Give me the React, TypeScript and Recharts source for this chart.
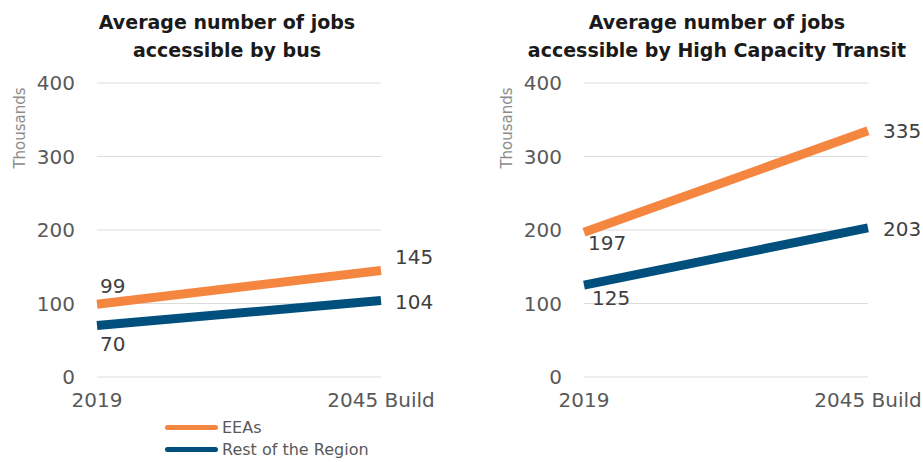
import { LineChart, Line, XAxis, YAxis, CartesianGrid, LabelList } from 'recharts';

const years = ['2019', '2045 Build'];
const busEEAs = [99, 145];
const busRest = [70, 104];
const hctEEAs = [197, 335];
const hctRest = [125, 203];
const yTicks = [0, 100, 200, 300, 400];

const ORANGE = '#F5863F';
const BLUE = '#004F7C';
const FONT = '"DejaVu Sans", sans-serif';

type Offset = [number, number];

const makeLabel = (offsets: Offset[], mid: number) => (props: any) => {
  const i = props.index ?? (props.x < mid ? 0 : 1);
  const [dx, dy] = offsets[i];
  return (
    <text
      x={props.x + dx}
      y={props.y + dy}
      dominantBaseline="central"
      fill="#404040"
      fontSize={20}
      fontFamily={FONT}
    >
      {props.value}
    </text>
  );
};

interface PanelProps {
  left: number;
  width: number;
  plotLeft: number;
  title: string[];
  titleCenter: number;
  eeas: number[];
  rest: number[];
  eeasOffsets: Offset[];
  restOffsets: Offset[];
}

function Panel({ left, width, plotLeft, title, titleCenter, eeas, rest, eeasOffsets, restOffsets }: PanelProps) {
  const data = years.map((y, i) => ({ year: y, eeas: eeas[i], rest: rest[i] }));
  const plotRight = plotLeft + 284;
  const mid = (plotLeft + plotRight) / 2;
  return (
    <div style={{ position: 'absolute', left, top: 0, width, height: 462 }}>
      <div
        style={{
          position: 'absolute',
          left: titleCenter - 230,
          width: 460,
          top: 8,
          textAlign: 'center',
          fontFamily: FONT,
          fontWeight: 700,
          fontSize: 19,
          lineHeight: '28px',
          color: '#1a1a1a',
        }}
      >
        {title.map((t) => (
          <div key={t}>{t}</div>
        ))}
      </div>
      <div
        style={{
          position: 'absolute',
          left: plotLeft - 77 - 50,
          top: 119,
          width: 100,
          textAlign: 'center',
          transform: 'rotate(-90deg)',
          fontFamily: FONT,
          fontSize: 15,
          color: '#8c8c8c',
        }}
      >
        Thousands
      </div>
      <LineChart
        width={width}
        height={462}
        data={data}
        margin={{ top: 83, right: width - plotRight, bottom: 45, left: plotLeft - 60 }}
      >
        <CartesianGrid vertical={false} stroke="#dcdcdc" />
        <XAxis
          dataKey="year"
          axisLine={false}
          tickLine={false}
          tickSize={0}
          tickMargin={16}
          height={40}
          interval={0}
          tick={{ fill: '#595959', fontSize: 20, fontFamily: FONT }}
        />
        <YAxis
          domain={[0, 400]}
          ticks={yTicks}
          axisLine={false}
          tickLine={false}
          tickSize={0}
          tickMargin={22}
          width={60}
          tick={{ fill: '#595959', fontSize: 20, fontFamily: FONT }}
        />
        <Line dataKey="eeas" stroke={ORANGE} strokeWidth={9} dot={false} isAnimationActive={false}>
          <LabelList dataKey="eeas" content={makeLabel(eeasOffsets, mid)} />
        </Line>
        <Line dataKey="rest" stroke={BLUE} strokeWidth={9} dot={false} isAnimationActive={false}>
          <LabelList dataKey="rest" content={makeLabel(restOffsets, mid)} />
        </Line>
      </LineChart>
    </div>
  );
}

export default function App() {
  return (
    <div style={{ position: 'absolute', left: 0, top: 0, width: 923, height: 462, background: '#fff' }}>
      <Panel
        left={0}
        width={460}
        plotLeft={97}
        title={['Average number of jobs', 'accessible by bus']}
        titleCenter={227}
        eeas={busEEAs}
        rest={busRest}
        eeasOffsets={[[3, -18], [14, -13]]}
        restOffsets={[[3, 18], [14, 1]]}
      />
      <Panel
        left={460}
        width={463}
        plotLeft={124}
        title={['Average number of jobs', 'accessible by High Capacity Transit']}
        titleCenter={257}
        eeas={hctEEAs}
        rest={hctRest}
        eeasOffsets={[[4, 11], [15, 0]]}
        restOffsets={[[8, 13], [15, 1]]}
      />
      <div style={{ position: 'absolute', left: 165, top: 416, fontFamily: FONT, fontSize: 16, color: '#595959' }}>
        {[
          { name: 'EEAs', color: ORANGE },
          { name: 'Rest of the Region', color: BLUE },
        ].map((s) => (
          <div key={s.name} style={{ display: 'flex', alignItems: 'center', height: 22 }}>
            <span style={{ width: 53, height: 5, borderRadius: 3, background: s.color, marginRight: 4 }} />
            <span>{s.name}</span>
          </div>
        ))}
      </div>
    </div>
  );
}
